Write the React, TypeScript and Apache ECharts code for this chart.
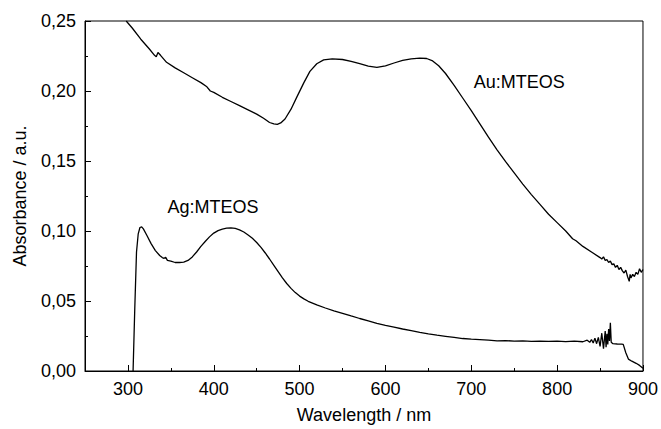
import React, { useEffect, useRef } from "react";
import * as echarts from "echarts";

const auWave = [298,305,315,325,331,333,335,338,345,355,365,375,385,392,396,400,410,420,430,440,450,458,465,470,474,478,483,490,497,505,512,520,528,538,550,560,570,580,590,600,610,620,630,640,648,655,662,670,680,690,700,710,720,730,740,750,760,770,780,790,800,810,818,822,830,840,850,852,854,856,858,860,862,864,866,868,870,872,874,876,878,880,882,884,885,886,888,890,892,894,896,898,900];
const auAbs = [0.25,0.245,0.237,0.230,0.2255,0.2245,0.2275,0.2255,0.2205,0.2165,0.2130,0.2095,0.2060,0.2030,0.2000,0.1990,0.1955,0.1925,0.1895,0.1865,0.1835,0.1805,0.1775,0.1765,0.1762,0.1772,0.1800,0.1870,0.1960,0.2060,0.2140,0.2195,0.2222,0.2230,0.2225,0.2212,0.2195,0.2178,0.2168,0.2180,0.2200,0.2218,0.2230,0.2235,0.2232,0.2215,0.2180,0.2125,0.2040,0.1950,0.1860,0.1765,0.1670,0.1580,0.1495,0.1415,0.1335,0.1260,0.1190,0.1120,0.1060,0.1000,0.0945,0.0930,0.0890,0.0850,0.0810,0.0800,0.0815,0.0790,0.0795,0.0775,0.0785,0.0760,0.0765,0.0740,0.0755,0.0725,0.0740,0.0715,0.0700,0.0720,0.0675,0.0640,0.0690,0.0665,0.0690,0.0675,0.0705,0.0690,0.0730,0.0705,0.0725];

const agWave = [306,308,310,312,314,316,318,322,327,332,337,340,342,344,346,350,355,360,365,370,375,380,385,390,395,400,405,410,415,420,425,430,435,440,445,450,455,460,465,470,475,480,485,490,495,500,505,510,520,530,540,550,560,570,580,590,600,610,620,630,640,650,660,670,680,690,700,710,720,730,740,750,760,770,780,790,800,810,820,830,835,838,840,842,844,846,848,850,852,854,856,857,858,859,860,861,862,863,865,870,875,877,880,883,887,892,896,900];
const agAbs = [0.0,0.045,0.085,0.098,0.1025,0.1030,0.1015,0.0970,0.0910,0.0860,0.0825,0.0810,0.0805,0.0812,0.0790,0.0785,0.0775,0.0775,0.0778,0.0790,0.0815,0.0850,0.0890,0.0925,0.0958,0.0985,0.1003,0.1013,0.1020,0.1022,0.1018,0.1008,0.0993,0.0972,0.0948,0.0918,0.0883,0.0843,0.0800,0.0755,0.0710,0.0665,0.0625,0.0590,0.0560,0.0535,0.0515,0.0498,0.0472,0.0450,0.0430,0.0412,0.0393,0.0375,0.0358,0.0340,0.0326,0.0314,0.0300,0.0288,0.0276,0.0265,0.0256,0.0248,0.0240,0.0232,0.0227,0.0224,0.0220,0.0215,0.0217,0.0213,0.0215,0.0212,0.0214,0.0211,0.0213,0.0210,0.0214,0.0209,0.0220,0.0205,0.0225,0.0200,0.0235,0.0195,0.0240,0.0175,0.0270,0.0160,0.0285,0.0170,0.0265,0.0190,0.0300,0.0215,0.0345,0.0205,0.0195,0.0193,0.0192,0.0190,0.0130,0.0085,0.0070,0.0055,0.0040,0.0020];

const xMajorTicks = [300, 400, 500, 600, 700, 800, 900];
const xMinorTicks = [250, 350, 450, 550, 650, 750, 850];
const seriesLabels = ["Au:MTEOS", "Ag:MTEOS"];

const FONT = "Liberation Sans, Arial, sans-serif";
const FS = 18;

export default function App() {
  const ref = useRef<HTMLDivElement>(null);
  useEffect(() => {
    if (!ref.current) return;
    const chart = echarts.init(ref.current, null, { renderer: "svg" });
    const zip = (a: number[], b: number[]) => a.map((v, i) => [v, b[i]]);
    const txt = { fontSize: FS, color: "#000", fontFamily: FONT };
    chart.setOption({
      animation: false,
      grid: { left: 85, top: 21, right: 16, bottom: 57, show: true, borderColor: "#000", borderWidth: 1 },
      xAxis: [
        {
          type: "value", min: 250, max: 900,
          name: "Wavelength / nm", nameLocation: "middle", nameGap: 35,
          nameTextStyle: txt,
          axisLine: { show: true, lineStyle: { color: "#000", width: 1 } },
          axisTick: { show: true, inside: true, length: 6, customValues: xMajorTicks, lineStyle: { color: "#000" } },
          axisLabel: { show: true, customValues: xMajorTicks, ...txt, margin: 9 },
          splitLine: { show: false },
        },
        {
          type: "value", min: 250, max: 900, position: "bottom",
          axisLine: { show: false },
          axisTick: { show: true, inside: true, length: 3, customValues: xMinorTicks, lineStyle: { color: "#000" } },
          axisLabel: { show: false },
          splitLine: { show: false },
        },
      ],
      yAxis: {
        type: "value", min: 0, max: 0.25, interval: 0.05,
        name: "Absorbance / a.u.", nameLocation: "middle", nameGap: 56,
        nameTextStyle: txt,
        axisLine: { show: true, lineStyle: { color: "#000", width: 1 } },
        axisTick: { show: true, inside: true, length: 6, lineStyle: { color: "#000" } },
        minorTick: { show: true, splitNumber: 2, length: 3, lineStyle: { color: "#000" } },
        axisLabel: {
          ...txt, margin: 9,
          formatter: (v: number) => v.toFixed(2).replace(".", ","),
        },
        splitLine: { show: false },
      },
      series: [
        {
          type: "line", name: seriesLabels[0], data: zip(auWave, auAbs), showSymbol: false, symbol: "none",
          lineStyle: { color: "#000", width: 1.3 }, clip: true,
          markPoint: {
            symbol: "circle", symbolSize: 0,
            data: [{ coord: [756, 0.2066], label: { show: true, position: "inside", formatter: seriesLabels[0], ...txt } }],
          },
        },
        {
          type: "line", name: seriesLabels[1], data: zip(agWave, agAbs), showSymbol: false, symbol: "none",
          lineStyle: { color: "#000", width: 1.3 }, clip: true,
          markPoint: {
            symbol: "circle", symbolSize: 0,
            data: [{ coord: [399, 0.1175], label: { show: true, position: "inside", formatter: seriesLabels[1], ...txt } }],
          },
        },
      ],
    });
    return () => chart.dispose();
  }, []);
  return <div ref={ref} style={{ width: 661, height: 429, position: "absolute", left: 0, top: 0 }} />;
}
